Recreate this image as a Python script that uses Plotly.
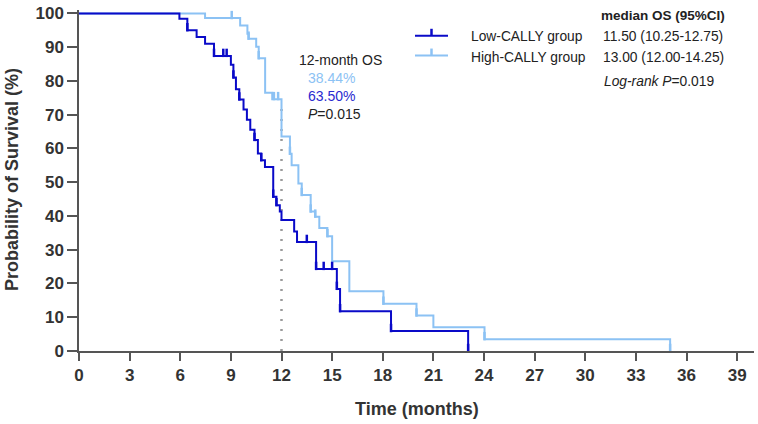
import plotly.graph_objects as go
import numpy as np

# ---------------- data ----------------
low_t = [0, 5.95, 6.42, 6.97, 7.47, 8.0, 9.0, 9.15, 9.3, 9.5, 9.75, 9.95, 10.15, 10.4, 10.6, 10.8, 11.02, 11.51, 11.7, 11.9, 12.0, 12.75, 12.92, 14.05, 15.28, 15.47, 18.49, 23.06]
low_s = [100, 98.4, 95.0, 93.0, 91.0, 87.4, 84.8, 81.0, 77.5, 74.5, 71.5, 68.5, 65.5, 62.5, 58.5, 56.5, 54.5, 45.7, 43.2, 41.3, 38.8, 35.4, 32.3, 24.3, 18.4, 11.8, 5.9, 0]
low_cens = [6.42, 8.0, 8.55, 8.75, 9.15, 9.5, 10.4, 10.8, 11.51, 11.7, 13.5, 14.05, 14.5, 15.0, 15.28, 15.47, 18.49, 23.06]

high_t = [0, 7.47, 9.55, 9.98, 10.05, 10.5, 10.65, 11.03, 11.45, 12.0, 12.5, 12.6, 13.0, 13.2, 13.73, 14.0, 14.24, 14.72, 15.0, 16.02, 18.04, 20.0, 21.0, 24.03, 35.03]
high_s = [100, 98.6, 96.4, 94.0, 92.5, 90.1, 86.7, 76.5, 74.6, 63.5, 58.4, 55.0, 49.6, 46.2, 41.3, 39.8, 36.4, 34.0, 26.6, 17.7, 14.0, 10.5, 7.0, 3.5, 0]
high_cens = [9.05, 10.05, 10.65, 11.55, 11.8, 12.5, 13.2, 13.73, 14.0, 14.72, 18.04, 20.0, 24.03, 35.03]

x_ticks = list(range(0, 40, 3))
y_ticks = list(range(0, 101, 10))

groups = ["Low-CALLY group", "High-CALLY group"]
medians = ["11.50 (10.25-12.75)", "13.00 (12.00-14.25)"]
os12 = ["38.44%", "63.50%"]
p12 = "0.015"
p_logrank = "0.019"
landmark = 12
landmark_top = 73.5

DARK = "#0a0ac8"
LIGHT = "#8cc2f4"
AXIS = "#555555"
FONT = "Arial, Liberation Sans, sans-serif"


def level_at(ts, ss, t):
    idx = np.searchsorted(np.array(ts), t, side="right") - 1
    return ss[max(idx, 0)]


fig = go.Figure()

# landmark dotted line
fig.add_trace(go.Scatter(x=[landmark, landmark], y=[0, landmark_top], mode="lines",
                         line=dict(color="#9a9a9a", width=2.5, dash="2px,8px"),
                         hoverinfo="skip", showlegend=False))

for ts, ss, cens, col in [(high_t, high_s, high_cens, LIGHT), (low_t, low_s, low_cens, DARK)]:
    fig.add_trace(go.Scatter(x=ts, y=ss, mode="lines", line=dict(color=col, width=2, shape="hv"),
                             showlegend=False))
    cy = [level_at(ts, ss, c) + 0.9 for c in cens]
    fig.add_trace(go.Scatter(x=cens, y=cy, mode="markers",
                             marker=dict(symbol="line-ns", size=6, line=dict(color=col, width=2.5)),
                             showlegend=False))

L, R, T, B = 79, 4, 6, 73
W, H = 758, 424
pw, ph = W - L - R, H - T - B


def px(x):
    return (x - L) / pw


def py(y):
    return (H - B - y) / ph


ann = []
# 12-month annotation block
ann.append(dict(x=px(297), y=py(57), text="12-month OS", font=dict(size=14, color="#222")))
ann.append(dict(x=px(306), y=py(75), text=os12[0], font=dict(size=14, color=LIGHT)))
ann.append(dict(x=px(306), y=py(93), text=os12[1], font=dict(size=14, color="#2a2ad0")))
ann.append(dict(x=px(306), y=py(111), text="<i>P</i>=" + p12, font=dict(size=14, color="#222")))
# legend table
ann.append(dict(x=px(599), y=py(12), text="<b>median OS (95%CI)</b>", font=dict(size=13.5, color="#222")))
ann.append(dict(x=px(469), y=py(33), text=groups[0], font=dict(size=13.8, color="#222")))
ann.append(dict(x=px(601), y=py(33), text=medians[0], font=dict(size=13.8, color="#222")))
ann.append(dict(x=px(469), y=py(54), text=groups[1], font=dict(size=13.8, color="#222")))
ann.append(dict(x=px(601), y=py(54), text=medians[1], font=dict(size=13.8, color="#222")))
ann.append(dict(x=px(602), y=py(78), text="<i>Log-rank P</i>=" + p_logrank, font=dict(size=13.8, color="#222")))
# axis titles
ann.append(dict(x=px(12), y=py(178), text="<b>Probability of Survival (%)</b>", textangle=-90,
                xanchor="center", font=dict(size=18, color="#333")))
ann.append(dict(x=px(417), y=py(410), text="<b>Time (months)</b>", xanchor="center",
                font=dict(size=18, color="#333")))
for a in ann:
    a.setdefault("xanchor", "left")
    a.update(xref="paper", yref="paper", yanchor="middle", showarrow=False)

shapes = []
for yy, col in [(32, DARK), (52, LIGHT)]:
    shapes.append(dict(type="line", xref="paper", yref="paper", x0=px(415), x1=px(448), y0=py(yy), y1=py(yy),
                       line=dict(color=col, width=2)))
    shapes.append(dict(type="line", xref="paper", yref="paper", x0=px(431.5), x1=px(431.5), y0=py(yy), y1=py(yy - 7),
                       line=dict(color=col, width=2.5)))

fig.update_layout(
    width=W, height=H, margin=dict(l=L, r=R, t=T, b=B),
    plot_bgcolor="white", paper_bgcolor="white",
    font=dict(family=FONT, color="#333"),
    annotations=ann, shapes=shapes, showlegend=False,
    xaxis=dict(range=[0, 40], tickvals=x_ticks, ticktext=[f"<b>{v}</b>" for v in x_ticks],
               showline=True, linecolor=AXIS, linewidth=1.5, ticks="outside", ticklen=8, tickwidth=1.5,
               tickcolor=AXIS, showgrid=False, zeroline=False, tickfont=dict(size=17, color="#333")),
    yaxis=dict(range=[0, 101], tickvals=y_ticks, ticktext=[f"<b>{v}</b>" for v in y_ticks],
               showline=True, linecolor=AXIS, linewidth=1.5, ticks="outside", ticklen=10, tickwidth=1.5,
               tickcolor=AXIS, showgrid=False, zeroline=False, tickfont=dict(size=17, color="#333")),
)

fig.write_html("out.html")
